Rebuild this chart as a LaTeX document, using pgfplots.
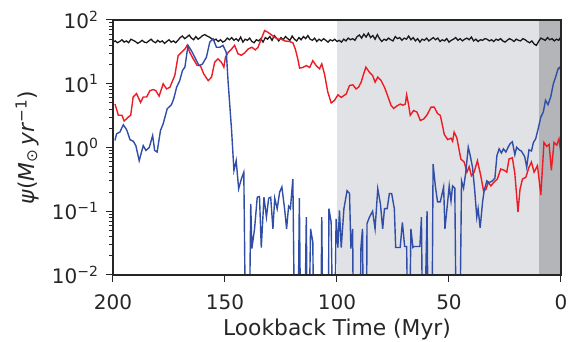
\documentclass[border=0pt]{standalone}
\usepackage{fontspec}
\setmainfont{DejaVu Sans}
\usepackage{pgfplots}
\pgfplotsset{compat=1.18}
\definecolor{lightshade}{RGB}{225,226,229}
\definecolor{darkshade}{RGB}{180,181,185}
\definecolor{myred}{RGB}{237,28,36}
\definecolor{myblue}{RGB}{48,78,168}
\definecolor{txt}{RGB}{38,38,38}
\begin{document}
\begin{tikzpicture}
\begin{axis}[
  scale only axis, width=448pt, height=255pt,
  x dir=reverse, xmin=0, xmax=200,
  ymode=log, ymin=1e-2, ymax=1e2,
  xtick={0,50,100,150,200},
  ytick={1e-2,1e-1,1,10,100},
  yticklabels={10\textsuperscript{−2},10\textsuperscript{−1},10\textsuperscript{0},10\textsuperscript{1},10\textsuperscript{2}},
  tick align=outside, tick pos=left,
  major tick length=7pt, minor tick length=4pt,
  axis line style={line width=1.2pt, txt},
  every tick/.style={txt, line width=1pt},
  /pgf/number format/assume math mode=true,
  tick label style={font=\fontsize{20}{22}\selectfont, text=txt},
  label style={font=\fontsize{21.8}{24}\selectfont, text=txt},
  xticklabel style={anchor=base, yshift=-27.7pt},
  yticklabel style={anchor=east, xshift=-4pt},
  xlabel={Lookback Time (Myr)},
  xlabel style={at={(axis description cs:0.5,0)}, anchor=base, yshift=-61pt},
  ylabel={{\itshape ψ}(\textit{M}\textsubscript{⊙}\,\textit{yr}\textsuperscript{−1})},
  ylabel style={at={(axis description cs:0,0.5)}, anchor=center, yshift=86pt},
  axis on top,
]
\addplot[draw=none, fill=lightshade] coordinates {(100,1e-3) (10,1e-3) (10,1e3) (100,1e3)};
\addplot[draw=none, fill=darkshade] coordinates {(10,1e-3) (0,1e-3) (0,1e3) (10,1e3)};
% black
\addplot[black!90, line width=1.3pt] table {
200 45
199 47
198 44
197 46
196 49
195 45
194 47
193 44
192 50
191 48
190 46
189 43
188 45
187 48
186 45
185 44
184 47
183 50
182 46
181 44
180 48
179 45
178 47
177 43
176 46
175 49
174 45
173 47
172 44
171 48
170 53
169 56
168 51
167 54
166 58
165 52
164 49
163 55
162 50
161 53
160 57
159 59
158 56
157 54
156 51
155 48
154 50
153 46
152 49
151 45
150 47
149 52
148 49
147 53
146 48
145 51
144 47
143 54
142 45
141 50
140 48
139 52
138 46
137 44
136 49
135 47
134 51
133 45
132 53
131 50
130 55
129 48
128 57
127 52
126 47
125 53
124 49
123 55
122 51
121 48
120 56
119 50
118 47
117 53
116 49
115 55
114 51
113 57
112 50
111 48
110 52
109 46
108 50
107 47
106 51
105 48
104 45
103 49
102 47
101 50
100 46
99 48
98 45
97 50
96 47
95 52
94 49
93 51
92 48
91 55
90 58
89 52
88 60
87 54
86 62
85 53
84 57
83 50
82 59
81 51
80 46
79 50
78 48
77 52
76 49
75 47
74 55
73 51
72 53
71 48
70 52
69 50
68 56
67 49
66 53
65 47
64 51
63 45
62 50
61 48
60 52
59 47
58 50
57 53
56 49
55 52
54 46
53 49
52 47
51 51
50 45
49 48
48 50
47 53
46 48
45 51
44 47
43 50
42 52
41 49
40 54
39 47
38 50
37 46
36 49
35 48
34 51
33 50
32 47
31 49
30 46
29 50
28 48
27 51
26 47
25 45
24 48
23 51
22 49
21 46
20 50
19 48
18 47
17 51
16 49
15 46
14 44
13 47
12 42
11 40
10 46
9 52
8 50
7 48
6 53
5 49
4 51
3 47
2 50
1 48
0 55
};
% red
\addplot[myred, line width=1.4pt] table {
199.1 4.8
197.6 3.2
196 3.2
195 2.6
193.2 3.0
192.1 3.2
191 6.2
189.5 7.0
187.7 5.1
186.5 6.2
185 6.2
183.5 7.8
182 8.1
180.9 7.8
179.4 6.4
177.6 10
176.1 8.3
174.6 8.8
172.4 13.5
170.9 27.7
169.4 31
167.9 35
166.9 40
165.7 31
164.2 24.6
162.4 19.3
161 19.3
159.5 14.3
157.5 11.2
156 12.7
154.6 21.8
153.1 24.6
151.6 21.8
150.5 18.2
149.8 26
148.6 31
147.1 35
145.7 40
144.2 29.5
142.7 28
141.2 30.5
139.7 35
138 37.4
136.5 34
135.3 37
133.8 50.7
132.3 68.4
130.8 64
129.3 58.6
127.8 53.5
126.3 50
124.8 50
123.4 47
121.2 46
119.7 44
118.6 35
117.5 24.6
116.7 17.6
115.2 18
113.7 19.3
112.2 18
110.8 23
109.3 19.3
107.8 17.2
106.8 20.5
105.6 14.3
104.1 7.4
102.6 5.0
101.1 5.5
99.6 6.7
98.1 6.1
96.7 6.6
95.9 6.9
94.4 9.4
92.9 9.6
91.5 8.3
90.4 8.8
89.2 10.6
88.1 14.3
87.1 18.2
85.5 15.1
84.1 13.5
83 10.6
81.8 12.7
80.3 11.2
78.8 8.8
77.4 6.5
75.9 4.6
74.7 4.1
73.2 4.5
71.7 4.8
70.6 4.6
69.5 4.8
68.9 6.7
68 4.6
67.3 3.2
65.8 3.8
64.3 3.6
62.8 2.65
61.3 2.8
59.8 3.25
58 4.3
56.6 4.3
55.1 3.4
53.9 3.2
52.9 2.2
52.1 1.6
50.6 1.33
49.1 1.4
48.4 1.25
47.7 1.74
46.5 1.42
44.7 0.66
43.2 0.59
42 0.41
41 0.5
40 0.36
38.8 0.41
37.3 0.62
35.8 0.36
34.6 0.21
33.5 0.22
32.5 0.285
31.3 0.25
29.8 0.29
28.4 0.32
26.9 0.46
25.4 0.44
24.2 0.41
23.2 0.66
21.7 0.69
20.6 0.39
19.2 0.097
18.3 0.22
17.2 0.32
15.7 0.34
14.3 0.49
13.2 0.59
12 0.41
10.5 0.52
9 0.18
7.6 1.2
6.4 1.04
5.3 1.12
4.3 0.44
3.1 1.2
1.9 1.09
0.9 1.37
0.1 0.85
};
% blue
\addplot[myblue, line width=1.4pt] table {
199.1 1.29
198.4 1.64
196.9 1.75
195.4 2.27
193.9 1.9
192.4 1.33
190.9 1.25
189.8 1.07
188.3 0.62
186.5 1.07
185.3 0.9
183.8 1.0
182.3 1.54
181.4 0.9
180.3 0.85
178.8 1.85
177.6 2.35
175.8 4.05
173.9 4.7
172.9 5.8
171.6 8.8
170.2 11.2
169 16.1
167.9 18.2
166.5 40
165 33
163.5 26
161.6 19.3
160.1 20.3
158.3 26
156.8 44.8
155.3 50.7
153.8 37.4
152.3 37.4
150.9 40
149.4 31
148.6 10.6
147.1 1.96
146 0.435
145 0.62
143.9 0.225
142.7 0.32
141.6 0.41
140.5 0.0001
139.5 0.0001
138.5 0.13
138 0.026
136.8 0.053
135.6 0.166
134.6 0.17
133.8 0.027
132.6 0.166
131.5 0.081
130.5 0.16
129.6 0.166
128.6 0.053
127.8 0.16
126.7 0.109
125.6 0.2
124.6 0.24
123.4 0.11
122.5 0.053
121.6 0.12
120.8 0.11
119.7 0.32
118.6 0.0001
117.7 0.0001
116.8 0.16
115.9 0.0001
114.8 0.0001
113.7 0.081
113 0.0001
111.8 0.053
110.8 0.033
110 0.0001
107.5 0.0001
106.8 0.081
106 0.0001
104 0.0001
103.6 0.11
102.6 0.067
101.4 0.0001
100.4 0.076
99.6 0.027
98.9 0.103
98.1 0.027
96.9 0.11
95.5 0.21
94.4 0.19
93.8 0.026
93 0.053
92.5 0.0001
90 0.0001
89.3 0.028
88.6 0.053
88 0.0001
87 0.0001
86.6 0.064
85.5 0.081
84.1 0.1
83 0.053
81.8 0.225
80.6 0.13
79.6 0.053
78.8 0.11
77.6 0.11
76.6 0.19
75.6 0.19
74.4 0.11
73.8 0.027
71.8 0.027
70.8 0.067
69.8 0.028
68.9 0.028
68 0.0001
67 0.053
66.1 0.027
65.6 0.028
64.1 0.028
63 0.028
62.3 0.081
61.5 0.0001
59.8 0.1
59 0.0001
57.8 0.0001
57.1 0.55
56.1 0.25
55.1 0.14
53.9 0.14
52.4 0.24
51.8 0.053
50.6 0.14
49.9 0.25
49.1 0.145
48.4 0.25
47.4 0.23
46.5 0.0001
45.5 0.0001
44.4 0.30
43.5 0.23
42.5 0.41
41.4 1.01
40.6 0.77
39.5 0.49
38.5 0.21
37.6 0.081
37 0.11
36.1 0.055
35 0.14
34.3 0.21
33.1 0.3
32.1 0.28
30.6 0.3
29.5 0.33
28.6 0.75
27.6 0.95
26.6 0.82
25.7 0.95
24.6 0.85
23.6 1.01
22.7 1.15
21.7 1.23
20.6 0.77
19.8 1.01
18.7 0.92
17.7 0.88
16.8 0.78
16.2 0.72
15.3 0.49
14.3 0.92
13.2 0.88
12.3 1.2
11.3 1.37
10.2 1.96
9 3.0
7.9 3.6
6.9 5.5
5.8 4.7
4.6 6.2
3.4 10
2.4 12.7
1.3 17.2
0.5 18.2
0.1 16
};
\end{axis}
\pgfresetboundingbox
\path (current axis.south west) ++(-113pt,-67pt) rectangle ++(574pt,342pt);
\end{tikzpicture}
\end{document}
